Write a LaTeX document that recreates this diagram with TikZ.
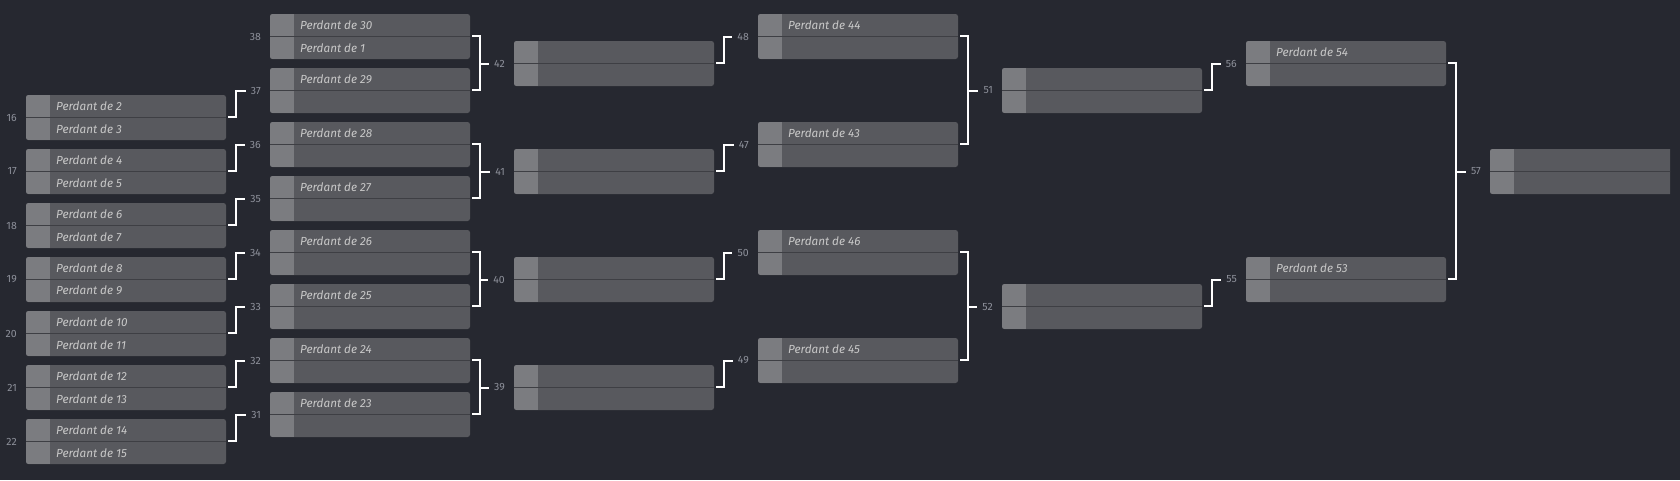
\documentclass[tikz,border=0pt]{standalone}
\usepackage{fontspec}
\setmainfont{Fira Sans}
\definecolor{bgc}{HTML}{262830}
\definecolor{boxc}{HTML}{58595E}
\definecolor{sqc}{HTML}{7B7C80}
\definecolor{divc}{HTML}{3E3F44}
\definecolor{txtc}{HTML}{C8C8C8}
\definecolor{lblc}{HTML}{8E919B}
\tikzset{
  matchbox/.style={draw=none, fill=boxc, rounded corners=2.5pt, minimum width=200pt,
    minimum height=45pt, inner sep=0pt, outer sep=0pt,
    path picture={
      \fill[sqc, sharp corners] (path picture bounding box.north west) rectangle ([xshift=24pt]path picture bounding box.south west);
      \draw[divc, line width=1.2pt, sharp corners] (path picture bounding box.west) -- (path picture bounding box.east);
    }},
  lbl/.style={inner sep=5pt, text=lblc, font=\fontsize{10.5}{12}\selectfont},
  ptxt/.style={anchor=west, inner sep=0pt, text=txtc, font=\itshape\fontsize{11.7}{13}\selectfont},
  conn/.style={draw=white, line width=2pt},
}
\newcommand\mymatch[5]{%
  \node[matchbox, anchor=west] (m#1) at (#2,#3) {};
  \node[lbl, anchor=east] (l#1) at ([xshift=-4pt]m#1.west) {#1};
  \if\relax\detokenize{#4}\relax\else
    \node[ptxt] (m#1a) at ([xshift=30pt,yshift=11.25pt]m#1.west) {#4};\fi
  \if\relax\detokenize{#5}\relax\else
    \node[ptxt] (m#1b) at ([xshift=30pt,yshift=-11.25pt]m#1.west) {#5};\fi
}
\newcommand\single[2]{%
  \draw[conn] ([xshift=2pt,yshift=1pt]m#1.east) -- ++(8pt,0) |- (l#2.west);
}
\newcommand\bracket[3]{%
  \draw[conn] ([xshift=2pt,yshift=1pt]m#1.east) -- ++(8pt,0) coordinate (k#3) |- ([xshift=2pt,yshift=1pt]m#2.east);
  \draw[conn] (k#3 |- l#3.west) -- (l#3.west);
}
\begin{document}
\begin{tikzpicture}[x=1pt,y=-1pt]
\fill[bgc] (0,0) rectangle (1680,480);
\useasboundingbox (0,0) rectangle (1680,480);
% round 1
\mymatch{16}{26}{117.5}{Perdant de 2}{Perdant de 3}
\mymatch{17}{26}{171.5}{Perdant de 4}{Perdant de 5}
\mymatch{18}{26}{225.5}{Perdant de 6}{Perdant de 7}
\mymatch{19}{26}{279.5}{Perdant de 8}{Perdant de 9}
\mymatch{20}{26}{333.5}{Perdant de 10}{Perdant de 11}
\mymatch{21}{26}{387.5}{Perdant de 12}{Perdant de 13}
\mymatch{22}{26}{441.5}{Perdant de 14}{Perdant de 15}
% round 2
\mymatch{38}{270}{36.5}{Perdant de 30}{Perdant de 1}
\mymatch{37}{270}{90.5}{Perdant de 29}{}
\mymatch{36}{270}{144.5}{Perdant de 28}{}
\mymatch{35}{270}{198.5}{Perdant de 27}{}
\mymatch{34}{270}{252.5}{Perdant de 26}{}
\mymatch{33}{270}{306.5}{Perdant de 25}{}
\mymatch{32}{270}{360.5}{Perdant de 24}{}
\mymatch{31}{270}{414.5}{Perdant de 23}{}
% round 3
\mymatch{42}{514}{63.5}{}{}
\mymatch{41}{514}{171.5}{}{}
\mymatch{40}{514}{279.5}{}{}
\mymatch{39}{514}{387.5}{}{}
% round 4
\mymatch{48}{758}{36.5}{Perdant de 44}{}
\mymatch{47}{758}{144.5}{Perdant de 43}{}
\mymatch{50}{758}{252.5}{Perdant de 46}{}
\mymatch{49}{758}{360.5}{Perdant de 45}{}
% round 5
\mymatch{51}{1002}{90.5}{}{}
\mymatch{52}{1002}{306.5}{}{}
% round 6
\mymatch{56}{1246}{63.5}{Perdant de 54}{}
\mymatch{55}{1246}{279.5}{Perdant de 53}{}
% final
\begin{scope}
\clip (0,0) rectangle (1670,480);
\mymatch{57}{1490}{171.5}{}{}
\end{scope}
% connectors
\single{16}{37}
\single{17}{36}
\single{18}{35}
\single{19}{34}
\single{20}{33}
\single{21}{32}
\single{22}{31}
\bracket{38}{37}{42}
\bracket{36}{35}{41}
\bracket{34}{33}{40}
\bracket{32}{31}{39}
\single{42}{48}
\single{41}{47}
\single{40}{50}
\single{39}{49}
\bracket{48}{47}{51}
\bracket{50}{49}{52}
\single{51}{56}
\single{52}{55}
\bracket{56}{55}{57}
\end{tikzpicture}
\end{document}
